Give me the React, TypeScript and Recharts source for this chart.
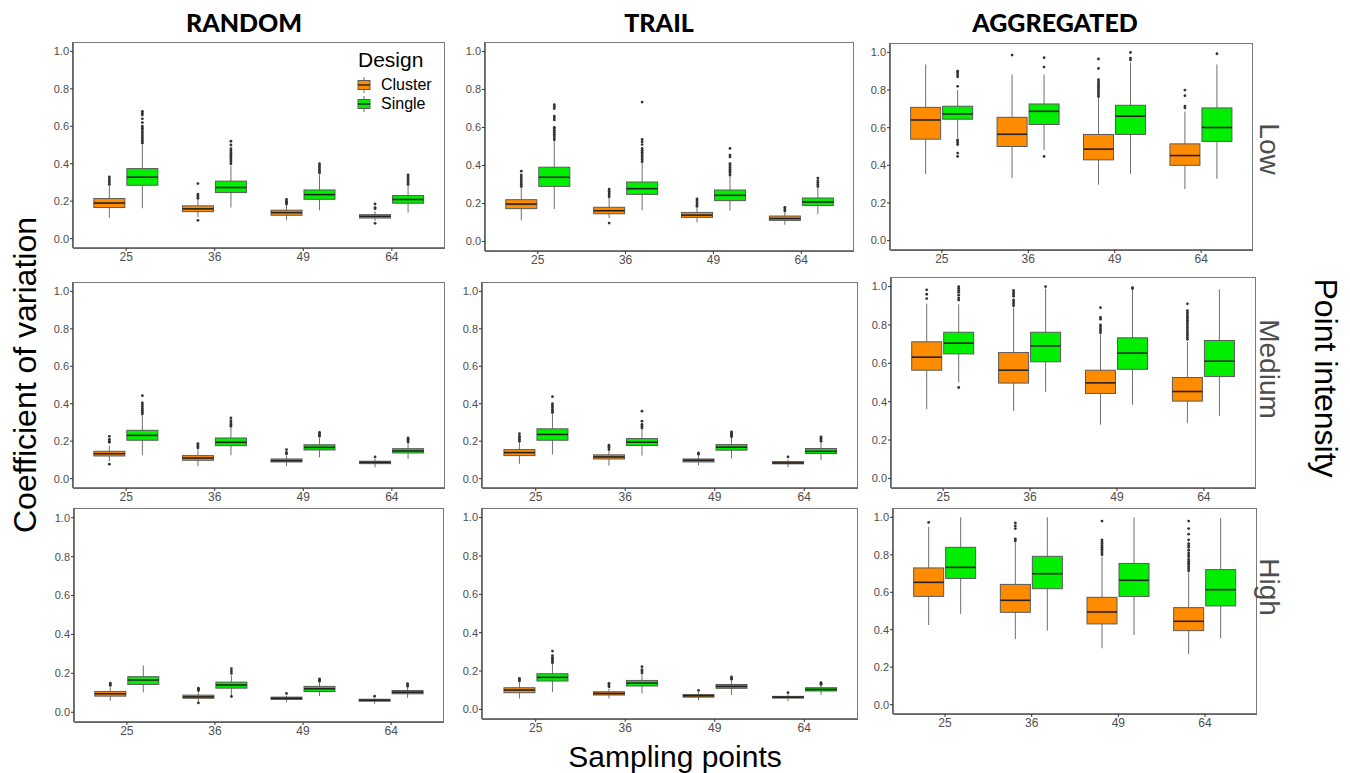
import React from 'react';
import { ComposedChart, Bar, XAxis, YAxis } from 'recharts';

// sampling points on the x axis, y ticks
const SAMPLING = ['25', '36', '49', '64'];
const Y_TICKS = [0, 0.2, 0.4, 0.6, 0.8, 1.0];
const COLUMNS = ['RANDOM', 'TRAIL', 'AGGREGATED'];
const INTENSITY = ['Low', 'Medium', 'High'];

// box stats: [lowWhisker, q1, median, q3, highWhisker] per sampling point
const randomLowCluster = [[0.112, 0.166, 0.19, 0.214, 0.285], [0.115, 0.144, 0.159, 0.175, 0.21], [0.098, 0.125, 0.139, 0.152, 0.18], [0.094, 0.11, 0.119, 0.128, 0.146]];
const randomLowClusterOut = [[0.29, 0.3, 0.31, 0.32, 0.33], [0.098, 0.215, 0.222, 0.23, 0.238, 0.294], [0.185, 0.19, 0.195, 0.2, 0.21], [0.082, 0.16, 0.166, 0.185]];
const randomLowSingle = [[0.162, 0.285, 0.328, 0.374, 0.5], [0.166, 0.246, 0.273, 0.307, 0.39], [0.152, 0.21, 0.235, 0.26, 0.34], [0.139, 0.189, 0.209, 0.23, 0.285]];
const randomLowSingleOut = [[0.51, 0.52, 0.53, 0.54, 0.55, 0.56, 0.57, 0.58, 0.59, 0.6, 0.62, 0.64, 0.66, 0.67, 0.68], [0.4, 0.41, 0.42, 0.43, 0.44, 0.45, 0.46, 0.47, 0.48, 0.5, 0.52], [0.35, 0.36, 0.37, 0.38, 0.39, 0.4], [0.29, 0.3, 0.31, 0.32, 0.33, 0.34]];

const trailLowCluster = [[0.111, 0.173, 0.197, 0.22, 0.285], [0.123, 0.146, 0.162, 0.18, 0.229], [0.1, 0.127, 0.139, 0.153, 0.18], [0.088, 0.111, 0.121, 0.134, 0.153]];
const trailLowClusterOut = [[0.29, 0.3, 0.31, 0.32, 0.33, 0.34, 0.35, 0.37], [0.097, 0.235, 0.245, 0.255, 0.265, 0.276], [0.185, 0.195, 0.205, 0.215, 0.224], [0.16, 0.17, 0.18]];
const trailLowSingle = [[0.171, 0.29, 0.338, 0.391, 0.528], [0.164, 0.248, 0.278, 0.313, 0.414], [0.162, 0.215, 0.243, 0.271, 0.345], [0.144, 0.19, 0.208, 0.229, 0.285]];
const trailLowSingleOut = [[0.535, 0.545, 0.555, 0.565, 0.575, 0.585, 0.595, 0.6, 0.64, 0.65, 0.66, 0.7, 0.71, 0.72], [0.42, 0.43, 0.44, 0.45, 0.46, 0.47, 0.48, 0.49, 0.51, 0.525, 0.537, 0.734], [0.35, 0.36, 0.37, 0.38, 0.39, 0.4, 0.41, 0.445, 0.455, 0.49], [0.29, 0.3, 0.31, 0.32, 0.334]];

const aggLowCluster = [[0.353, 0.539, 0.641, 0.708, 0.936], [0.332, 0.5, 0.565, 0.655, 0.883], [0.297, 0.429, 0.486, 0.564, 0.756], [0.274, 0.4, 0.452, 0.514, 0.686]];
const aggLowClusterOut = [[], [0.986], [0.765, 0.775, 0.785, 0.795, 0.805, 0.815, 0.825, 0.835, 0.845, 0.855, 0.915, 0.965], [0.705, 0.715, 0.77, 0.8]];
const aggLowSingle = [[0.545, 0.645, 0.673, 0.714, 0.8], [0.482, 0.617, 0.687, 0.726, 0.883], [0.355, 0.564, 0.661, 0.719, 0.947], [0.329, 0.527, 0.601, 0.705, 0.936]];
const aggLowSingleOut = [[0.447, 0.465, 0.51, 0.52, 0.53, 0.535, 0.82, 0.87, 0.88, 0.89, 0.9], [0.447, 0.922, 0.972], [0.96, 0.97, 1.0], [0.993]];

const randomMedCluster = [[0.093, 0.121, 0.133, 0.146, 0.175], [0.066, 0.098, 0.11, 0.123, 0.155], [0.066, 0.089, 0.096, 0.105, 0.123], [0.06, 0.08, 0.087, 0.093, 0.105]];
const randomMedClusterOut = [[0.077, 0.194, 0.2, 0.21, 0.226], [0.164, 0.172, 0.18, 0.187], [0.132, 0.14, 0.155], [0.116]];
const randomMedSingle = [[0.125, 0.205, 0.231, 0.258, 0.338], [0.125, 0.176, 0.194, 0.217, 0.275], [0.114, 0.153, 0.167, 0.181, 0.217], [0.105, 0.137, 0.148, 0.16, 0.19]];
const randomMedSingleOut = [[0.345, 0.355, 0.365, 0.375, 0.385, 0.395, 0.405, 0.443], [0.28, 0.29, 0.3, 0.31, 0.324], [0.226, 0.233, 0.24, 0.247], [0.196, 0.203, 0.21, 0.217]];

const trailMedCluster = [[0.079, 0.123, 0.139, 0.155, 0.195], [0.07, 0.105, 0.116, 0.127, 0.15], [0.071, 0.089, 0.098, 0.105, 0.125], [0.061, 0.079, 0.084, 0.091, 0.102]];
const trailMedClusterOut = [[0.2, 0.21, 0.218, 0.227, 0.24], [0.155, 0.165, 0.172, 0.179], [0.13, 0.1375], [0.116]];
const trailMedSingle = [[0.129, 0.205, 0.236, 0.266, 0.343], [0.123, 0.177, 0.195, 0.214, 0.263], [0.107, 0.152, 0.168, 0.182, 0.218], [0.098, 0.134, 0.146, 0.161, 0.195]];
const trailMedSingleOut = [[0.352, 0.36, 0.37, 0.38, 0.39, 0.4, 0.4375], [0.27, 0.28, 0.29, 0.307, 0.36], [0.223, 0.23, 0.237, 0.244, 0.25], [0.2, 0.207, 0.215, 0.223]];

const aggMedCluster = [[0.361, 0.564, 0.632, 0.712, 0.911], [0.352, 0.497, 0.564, 0.656, 0.89], [0.28, 0.443, 0.498, 0.564, 0.752], [0.288, 0.403, 0.453, 0.526, 0.712]];
const aggMedClusterOut = [[0.9375, 0.96, 0.983], [0.9, 0.91, 0.92, 0.93, 0.95, 0.96, 0.97, 0.98], [0.76, 0.77, 0.78, 0.79, 0.8, 0.83, 0.84, 0.89], [0.725, 0.735, 0.745, 0.755, 0.765, 0.775, 0.785, 0.795, 0.805, 0.815, 0.825, 0.835, 0.845, 0.855, 0.865, 0.875, 0.91]];
const aggMedSingle = [[0.5, 0.649, 0.705, 0.762, 0.908], [0.451, 0.608, 0.691, 0.762, 0.99], [0.384, 0.569, 0.653, 0.733, 0.985], [0.326, 0.531, 0.611, 0.719, 0.986]];
const aggMedSingleOut = [[0.474, 0.93, 0.94, 0.955, 0.97, 0.98, 0.99, 1.0], [1.0], [0.99, 0.995], []];

const randomHighCluster = [[0.06, 0.083, 0.095, 0.107, 0.129], [0.055, 0.072, 0.079, 0.088, 0.103], [0.052, 0.066, 0.072, 0.078, 0.086], [0.043, 0.057, 0.062, 0.067, 0.072]];
const randomHighClusterOut = [[0.138, 0.143, 0.15], [0.048, 0.112, 0.118, 0.124], [0.097], [0.083]];
const randomHighSingle = [[0.103, 0.143, 0.166, 0.183, 0.241], [0.086, 0.124, 0.14, 0.155, 0.19], [0.083, 0.107, 0.121, 0.133, 0.155], [0.074, 0.095, 0.103, 0.112, 0.129]];
const randomHighSingleOut = [[], [0.081, 0.2, 0.212, 0.224], [0.16, 0.166, 0.172], [0.134, 0.14, 0.147]];

const trailHighCluster = [[0.057, 0.087, 0.101, 0.113, 0.14], [0.057, 0.075, 0.083, 0.092, 0.108], [0.049, 0.064, 0.071, 0.078, 0.09], [0.043, 0.059, 0.064, 0.068, 0.078]];
const trailHighClusterOut = [[0.148, 0.155, 0.162], [0.118, 0.127, 0.136], [0.099], [0.087]];
const trailHighSingle = [[0.09, 0.148, 0.167, 0.186, 0.238], [0.083, 0.122, 0.137, 0.151, 0.183], [0.075, 0.11, 0.12, 0.13, 0.148], [0.075, 0.096, 0.104, 0.113, 0.127]];
const trailHighSingleOut = [[0.243, 0.25, 0.257, 0.264, 0.27, 0.28, 0.304], [0.19, 0.2, 0.207, 0.223], [0.157, 0.163, 0.169], [0.13, 0.135, 0.139]];

const aggHighCluster = [[0.425, 0.578, 0.653, 0.73, 0.95], [0.35, 0.493, 0.557, 0.642, 0.867], [0.301, 0.431, 0.495, 0.573, 0.79], [0.27, 0.395, 0.445, 0.518, 0.706]];
const aggHighClusterOut = [[0.973], [0.875, 0.885, 0.94, 0.955, 0.97], [0.8, 0.81, 0.82, 0.83, 0.84, 0.85, 0.86, 0.87, 0.88, 0.98], [0.715, 0.725, 0.735, 0.745, 0.755, 0.765, 0.775, 0.79, 0.8, 0.81, 0.825, 0.84, 0.85, 0.86, 0.88, 0.91, 0.94, 0.98]];
const aggHighSingle = [[0.484, 0.674, 0.733, 0.84, 1.0], [0.395, 0.619, 0.699, 0.792, 1.0], [0.372, 0.577, 0.664, 0.754, 1.0], [0.354, 0.527, 0.614, 0.721, 0.996]];
const aggHighSingleOut = [[], [], [], []];

const PANELS = [
  [
    [randomLowCluster, randomLowClusterOut, randomLowSingle, randomLowSingleOut],
    [trailLowCluster, trailLowClusterOut, trailLowSingle, trailLowSingleOut],
    [aggLowCluster, aggLowClusterOut, aggLowSingle, aggLowSingleOut],
  ],
  [
    [randomMedCluster, randomMedClusterOut, randomMedSingle, randomMedSingleOut],
    [trailMedCluster, trailMedClusterOut, trailMedSingle, trailMedSingleOut],
    [aggMedCluster, aggMedClusterOut, aggMedSingle, aggMedSingleOut],
  ],
  [
    [randomHighCluster, randomHighClusterOut, randomHighSingle, randomHighSingleOut],
    [trailHighCluster, trailHighClusterOut, trailHighSingle, trailHighSingleOut],
    [aggHighCluster, aggHighClusterOut, aggHighSingle, aggHighSingleOut],
  ],
];

// panel frames on the page: [left, top, right, bottom]
const FRAMES = [
  [[73, 42, 445, 248], [485, 42, 854, 251], [890, 43, 1253, 250]],
  [[73, 282, 445, 488], [482, 282, 858, 488], [891, 277, 1256, 488]],
  [[74, 508, 444, 722], [482, 508, 858, 719], [893, 508, 1257, 714]],
];
const TITLE_X = [244, 659, 1055];
const STRIP_Y = [149, 369, 587];

const ORANGE = '#FF8C00';
const GREEN = '#00EE00';
const AX_W = 45;
const AX_H = 22;
const SANS = '"Liberation Sans", Arial, sans-serif';

const boxShape = (stats: number[][], outs: number[][], fill: string) => (props: any) => {
  const { x, y, width, height, index } = props;
  const st = stats[index];
  const out = outs[index] || [];
  const top = Math.min(y, y + height);
  const bot = Math.max(y, y + height);
  const k = (bot - top) / (st[4] - st[0]);
  const py = (v: number) => bot - (v - st[0]) * k;
  const cx = x + width / 2;
  return (
    <g>
      <line x1={cx} x2={cx} y1={py(st[4])} y2={py(st[0])} stroke="#707070" strokeWidth={1} />
      <rect x={x} y={py(st[3])} width={width} height={Math.max(1, py(st[1]) - py(st[3]))} fill={fill} stroke="#5a5a5a" strokeWidth={1} />
      <line x1={x} x2={x + width} y1={py(st[2])} y2={py(st[2])} stroke="#222" strokeWidth={1.6} />
      {out.map((v, i) => <circle key={i} cx={cx} cy={py(v)} r={1.4} fill="#333" />)}
    </g>
  );
};

const Panel = ({ frame, series }: { frame: number[]; series: number[][][][] }) => {
  const [l, t, r, b] = frame;
  const w = r - l;
  const h = b - t;
  const [cluster, clusterOut, single, singleOut] = series as any;
  const data = SAMPLING.map((name, i) => ({
    name,
    cRange: [cluster[i][0], cluster[i][4]],
    sRange: [single[i][0], single[i][4]],
  }));
  const unit = w / 4.2;
  const pad = unit * 0.1;
  const barSize = Math.round(unit * 0.35);
  return (
    <>
      <div style={{ position: 'absolute', left: l - AX_W, top: t }}>
        <ComposedChart width={w + AX_W} height={h + AX_H} data={data} margin={{ top: 0, right: 0, bottom: 0, left: 0 }} barGap={2}>
          <XAxis
            dataKey="name"
            type="category"
            interval={0}
            height={AX_H}
            padding={{ left: pad, right: pad }}
            tick={{ fill: '#4d4d4d', fontSize: 12, fontFamily: SANS }}
            tickLine={{ stroke: '#333' }}
            axisLine={{ stroke: '#333', strokeWidth: 1.5 }}
            tickSize={3}
            tickMargin={1}
          />
          <YAxis
            type="number"
            domain={[-0.05, 1.05]}
            ticks={Y_TICKS}
            width={AX_W}
            tickFormatter={(v: number) => v.toFixed(1)}
            tick={{ fill: '#4d4d4d', fontSize: 11, fontFamily: SANS }}
            tickLine={{ stroke: '#333' }}
            axisLine={{ stroke: '#333', strokeWidth: 1.5 }}
            tickSize={3}
            tickMargin={1}
          />
          <Bar dataKey="cRange" fill={ORANGE} barSize={barSize} isAnimationActive={false} shape={boxShape(cluster, clusterOut, ORANGE)} />
          <Bar dataKey="sRange" fill={GREEN} barSize={barSize} isAnimationActive={false} shape={boxShape(single, singleOut, GREEN)} />
        </ComposedChart>
      </div>
      <div style={{ position: 'absolute', left: l, top: t, width: w, height: h, border: '1px solid #7a7a7a', boxSizing: 'border-box', pointerEvents: 'none' }} />
    </>
  );
};

const LegendKey = ({ fill }: { fill: string }) => (
  <svg width={14} height={16} style={{ display: 'block' }}>
    <line x1={7} x2={7} y1={0} y2={16} stroke="#707070" />
    <rect x={1} y={3.5} width={12} height={9} fill={fill} stroke="#5a5a5a" />
    <line x1={1} x2={13} y1={8} y2={8} stroke="#222" strokeWidth={1.4} />
  </svg>
);

const rotated = (x: number, y: number, deg: number, style: React.CSSProperties, text: string) => (
  <div style={{ position: 'absolute', left: x, top: y, transform: `translate(-50%, -50%) rotate(${deg}deg)`, whiteSpace: 'nowrap', lineHeight: 1, ...style }}>
    {text}
  </div>
);

export default function App() {
  return (
    <div style={{ position: 'absolute', left: 0, top: 0, width: 1350, height: 773, background: '#fff', overflow: 'hidden', fontFamily: SANS }}>
      {COLUMNS.map((c, i) => (
        <div key={c} style={{ position: 'absolute', left: TITLE_X[i], top: 22, transform: 'translate(-50%, -50%)', fontFamily: 'Lato, sans-serif', fontWeight: 900, fontSize: 25, color: '#000', whiteSpace: 'nowrap', lineHeight: 1 }}>
          {c}
        </div>
      ))}

      {PANELS.map((row, ri) => row.map((series, ci) => (
        <Panel key={`${ri}-${ci}`} frame={FRAMES[ri][ci]} series={series as any} />
      )))}

      {/* legend inside the first panel */}
      <div style={{ position: 'absolute', left: 358, top: 49, fontSize: 21, lineHeight: '21px', color: '#000' }}>Design</div>
      <div style={{ position: 'absolute', left: 357, top: 77, height: 16, display: 'flex', alignItems: 'center', gap: 10, fontSize: 16, lineHeight: '16px' }}>
        <LegendKey fill={ORANGE} /><span>Cluster</span>
      </div>
      <div style={{ position: 'absolute', left: 357, top: 96, height: 16, display: 'flex', alignItems: 'center', gap: 10, fontSize: 16, lineHeight: '16px' }}>
        <LegendKey fill={GREEN} /><span>Single</span>
      </div>

      {rotated(25, 375, -90, { fontSize: 32, color: '#000' }, 'Coefficient of variation')}
      {rotated(1326, 378, 90, { fontSize: 32, color: '#000' }, 'Point intensity')}
      {INTENSITY.map((s, i) => (
        <React.Fragment key={s}>{rotated(1269, STRIP_Y[i], 90, { fontSize: 28, color: '#4d4d4d' }, s)}</React.Fragment>
      ))}
      <div style={{ position: 'absolute', left: 675, top: 757, transform: 'translate(-50%, -50%)', fontSize: 30, lineHeight: 1, color: '#000', whiteSpace: 'nowrap' }}>
        Sampling points
      </div>
    </div>
  );
}
